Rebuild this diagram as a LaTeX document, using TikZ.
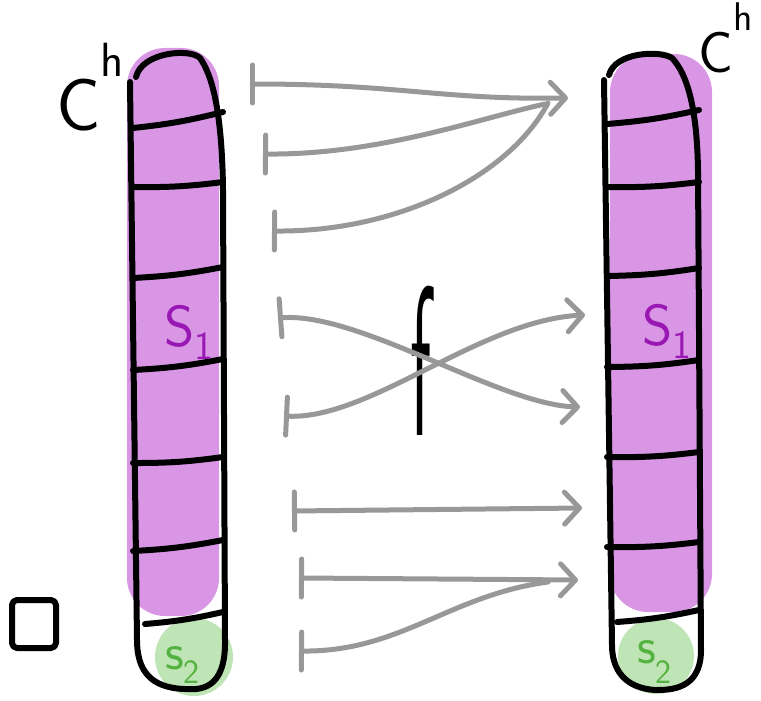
\documentclass[tikz,border=0pt]{standalone}
\usepackage{amsmath}
\usepackage{graphicx}
\usepackage{xcolor}
\usepackage{tikz}
\usetikzlibrary{arrows.meta,positioning}

\definecolor{cellpurple}{RGB}{217,150,229}
\definecolor{cellgreen}{RGB}{191,228,181}
\definecolor{labelpurple}{RGB}{153,24,180}
\definecolor{labelgreen}{RGB}{84,178,64}
\definecolor{mapgray}{RGB}{152,152,152}

\begin{document}
\begin{tikzpicture}[x=1pt,y=-1pt,
    ink/.style={black,line width=6pt,line cap=round,line join=round},
    mapline/.style={mapgray,line width=5pt,line cap=round},
    mapsto/.style={mapline,{Bar[width=38pt,round]}-{Straight Barb[length=15pt,width=32pt,round]}},
    mapstart/.style={mapline,{Bar[width=38pt,round]}-},
    bigtext/.style={font=\fontsize{#1}{#1}\selectfont\sffamily,inner sep=0pt,anchor=base west}]
    \useasboundingbox (0,0) rectangle (761,701);

    % Coloured cells
    \fill[cellpurple,rounded corners=38pt] (127,48) rectangle (219,616);
    \fill[cellpurple,rounded corners=38pt] (610,54) rectangle (712,612);
    \fill[cellgreen] (194,657) circle (39);
    \fill[cellgreen] (656,656) circle (38);

    % Column outlines
    \draw[ink] (136,77) .. controls (142,52) and (190,48) .. (200,58)
        .. controls (212,75) and (222,110) .. (223,190) -- (225,640)
        .. controls (226,690) and (200,690) .. (185,689)
        .. controls (150,688) and (137,670) .. (137,640) -- (130,82);
    \draw[ink] (609,75) .. controls (615,52) and (660,50) .. (672,58)
        .. controls (688,75) and (697,110) .. (698,170) -- (701,650)
        .. controls (701,690) and (670,690) .. (655,690)
        .. controls (625,688) and (612,670) .. (612,645) -- (604,80);

    % Dividers
    \foreach \xl/\yl/\yr in {133/128/112,133/187/182,133/278/267,133/370/359,
                             133/463/457,133/551/540,145/624/612}
        \draw[ink] (\xl,\yl) to[bend right=4] (223,\yr);
    \foreach \xl/\yl/\yr in {607/124/110,607/187/182,607/276/268,607/367/360,
                             607/457/452,607/547/542,617/622/610}
        \draw[ink] (\xl,\yl) to[bend right=4] (699,\yr);

    % Labels
    \node[bigtext=74] (leftname) at (56,130)
        {C\raisebox{54pt}{\fontsize{48}{48}\selectfont h}};
    \node[bigtext=58] (rightname) at (698,73)
        {C\raisebox{42pt}{\fontsize{40}{40}\selectfont h}};
    \node[bigtext=58,labelpurple] (lefts1) at (164,346)
        {S\raisebox{-13pt}{\fontsize{40}{40}\selectfont 1}};
    \node[bigtext=58,labelpurple] (rights1) at (642,345)
        {S\raisebox{-13pt}{\fontsize{40}{40}\selectfont 1}};
    \node[bigtext=52,labelgreen] (lefts2) at (165,669)
        {s\raisebox{-14pt}{\fontsize{34}{34}\selectfont 2}};
    \node[bigtext=52,labelgreen] (rights2) at (637,663)
        {s\raisebox{-20pt}{\fontsize{34}{34}\selectfont 2}};
    \node[inner sep=0pt,anchor=base] (fmap) at (421,435)
        {\scalebox{1.3}[3.8]{\fontsize{56}{56}\selectfont\sffamily f}};
    \node[draw,ink,rounded corners=5pt,minimum width=44pt,minimum height=48pt] (qedbox) at (34,624) {};

    % Map ends
    \coordinate (m1s) at (250,84);  \coordinate (m1e) at (568,98);
    \coordinate (m2s) at (263,154); \coordinate (m2e) at (545,104);
    \coordinate (m3s) at (272,231); \coordinate (m3e) at (548,103);
    \coordinate (m4s) at (278,318); \coordinate (m4e) at (580,407);
    \coordinate (m5s) at (284,416); \coordinate (m5e) at (585,315);
    \coordinate (m6s) at (292,511); \coordinate (m6e) at (582,508);
    \coordinate (m7s) at (299,578); \coordinate (m7e) at (578,580);
    \coordinate (m8s) at (299,651); \coordinate (m8e) at (548,582);

    % The map f
    \draw[mapsto] (m1s) .. controls (400,84) and (440,100) .. (m1e);
    \draw[mapstart] (m2s) .. controls (380,155) and (480,118) .. (m2e);
    \draw[mapstart] (m3s) .. controls (400,232) and (510,175) .. (m3e);
    \draw[mapsto] (m4s) .. controls (360,312) and (500,405) .. (m4e);
    \draw[mapsto] (m5s) .. controls (370,420) and (480,320) .. (m5e);
    \draw[mapsto] (m6s) -- (m6e);
    \draw[mapsto] (m7s) -- (m7e);
    \draw[mapstart] (m8s) .. controls (400,652) and (450,595) .. (m8e);
\end{tikzpicture}
\end{document}
